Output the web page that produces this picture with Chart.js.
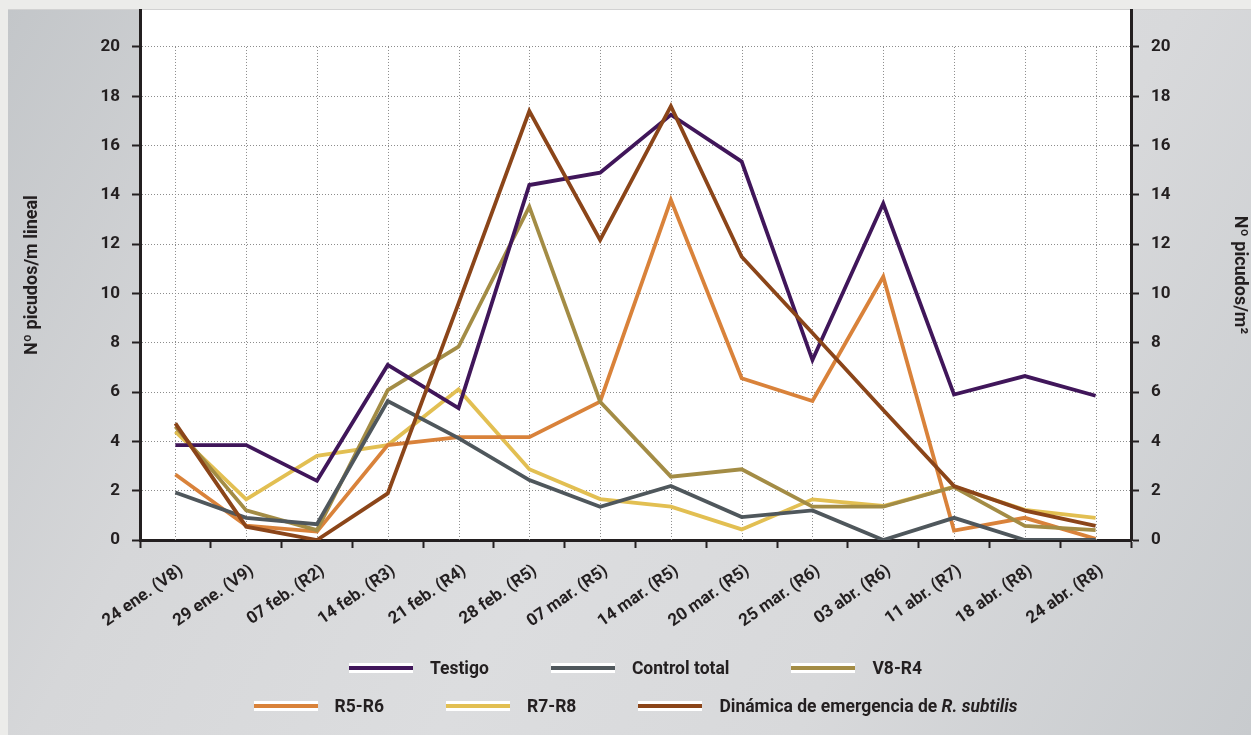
<!DOCTYPE html>
<html>
<head>
<meta charset="utf-8">
<script src="https://cdn.jsdelivr.net/npm/chart.js@4.4.1/dist/chart.umd.min.js"></script>
<style>
  html, body { margin: 0; padding: 0; }
  body { width: 1251px; height: 735px; background: #ececea; position: relative; overflow: hidden; font-family: Roboto, "Liberation Sans", sans-serif; }
  #panel { position: absolute; left: 8px; top: 9px; right: 0; bottom: 0;
    background: linear-gradient(118deg, #c3c6c9 0%, #d6d7d9 25%, #dcdddf 50%, #d8d9db 72%, #c8cbce 100%);
    border-top: 1px solid #d2d2d2; }
  #chart { position: absolute; left: 0; top: 0; }
  .row { position: absolute; left: 140px; width: 991px; height: 24px; display: flex; justify-content: center; align-items: center; gap: 62px; }
  .item { display: flex; align-items: center; }
  .sw { width: 64px; height: 4px; border-top: 3px solid #fff; border-bottom: 3px solid #fff; margin-right: 17px; }
  .txt { font-size: 17.5px; font-weight: bold; color: #231f20; white-space: nowrap; }
</style>
</head>
<body>
<div id="panel"></div>
<canvas id="chart" width="1251" height="735"></canvas>
<div id="legend"></div>

<script>
// fechas de muestreo (estado fenológico)
const labels = ['24 ene. (V8)', '29 ene. (V9)', '07 feb. (R2)', '14 feb. (R3)', '21 feb. (R4)', '28 feb. (R5)', '07 mar. (R5)',
  '14 mar. (R5)', '20 mar. (R5)', '25 mar. (R6)', '03 abr. (R6)', '11 abr. (R7)', '18 abr. (R8)', '24 abr. (R8)'];

const seriesNames = ['Testigo', 'Control total', 'V8-R4', 'R5-R6', 'R7-R8', 'Dinámica de emergencia de R. subtilis'];
const italicName = 'R. subtilis';

const testigo = [3.85, 3.85, 2.4, 7.1, 5.35, 14.4, 14.9, 17.25, 15.35, 7.3, 13.65, 5.9, 6.65, 5.85];
const controlTotal = [1.93, 0.9, 0.64, 5.64, 4.13, 2.43, 1.35, 2.19, 0.93, 1.2, 0, 0.9, 0, 0];
const v8r4 = [4.6, 1.2, 0.4, 6.08, 7.84, 13.52, 5.61, 2.57, 2.87, 1.35, 1.35, 2.15, 0.57, 0.4];
const r5r6 = [2.66, 0.58, 0.34, 3.85, 4.17, 4.17, 5.61, 13.8, 6.56, 5.64, 10.68, 0.38, 0.9, 0.05];
const r7r8 = [4.4, 1.65, 3.41, 3.85, 6.11, 2.87, 1.66, 1.35, 0.43, 1.65, 1.38, 2.16, 1.22, 0.9];
const dinamica = [4.73, 0.54, 0, 1.89, 9.6, 17.4, 12.17, 17.6, 11.49, 8.4, 5.27, 2.19, 1.19, 0.57];

const seriesValues = [testigo, controlTotal, v8r4, r5r6, r7r8, dinamica];
const seriesColors = ['#40165a', '#4f575c', '#a38c45', '#d9823a', '#e2bf52', '#8b4519'];

const yMax = 20;
const yStep = 2;

const dark = '#231f20';
const dotColor = '#8c8c8c';
const fam = 'Roboto, "Liberation Sans", sans-serif';

// white plot area + dotted vertical lines on the categories (only up to 20)
const plotBits = {
  id: 'plotBits',
  beforeDraw(chart) {
    const { ctx, chartArea: a } = chart;
    ctx.save();
    ctx.fillStyle = '#fff';
    ctx.fillRect(a.left, a.top, a.right - a.left, a.bottom - a.top);
    ctx.restore();
  },
  beforeDatasetsDraw(chart) {
    const { ctx } = chart;
    const xs = chart.scales.x, ys = chart.scales.y;
    const top = ys.getPixelForValue(yMax), bot = ys.getPixelForValue(0);
    ctx.save();
    ctx.strokeStyle = dotColor;
    ctx.lineWidth = 1;
    ctx.setLineDash([1, 2]);
    labels.forEach((l, i) => {
      const x = Math.round(xs.getPixelForValue(i)) + 0.5;
      ctx.beginPath();
      ctx.moveTo(x, top);
      ctx.lineTo(x, bot);
      ctx.stroke();
    });
    ctx.restore();
  }
};

// fixed box sizes so the plot sits where the original does
function fixBox(w, h) {
  return s => {
    if (w != null) s.width = w;
    if (h != null) s.height = h;
    s.paddingTop = 0; s.paddingBottom = 0; s.paddingLeft = 0; s.paddingRight = 0;
  };
}

const yTicks = {
  stepSize: yStep, includeBounds: false, color: dark, padding: 12,
  font: { family: fam, size: 17, weight: 'bold' }
};

const chart = new Chart(document.getElementById('chart'), {
  type: 'line',
  data: {
    labels: labels,
    datasets: seriesNames.map((name, i) => ({
      label: name,
      data: seriesValues[i],
      borderColor: seriesColors[i],
      backgroundColor: seriesColors[i],
      borderWidth: 3.8,
      borderJoinStyle: 'miter',
      pointRadius: 0,
      tension: 0,
      fill: false,
      order: i === 5 ? -1 : i
    }))
  },
  options: {
    responsive: false,
    animation: false,
    layout: { padding: { top: 10, left: 0, right: 0, bottom: 0 } },
    plugins: { legend: { display: false }, tooltip: { enabled: false } },
    scales: {
      x: {
        type: 'category',
        offset: true,
        grid: { offset: true, drawOnChartArea: false, drawTicks: true, tickLength: 8, tickColor: dark, tickWidth: 2, color: dark },
        border: { color: dark, width: 3 },
        ticks: {
          autoSkip: false, minRotation: 35, maxRotation: 35, color: dark, padding: 13, labelOffset: 6,
          font: { family: fam, size: 17, weight: 'bold' }
        },
        afterFit: fixBox(null, 195)
      },
      y: {
        position: 'left', min: 0, max: 21.5,
        ticks: yTicks,
        grid: { color: dotColor, lineWidth: 1, tickColor: dark, tickWidth: 2, tickLength: 8 },
        border: { color: dark, width: 3, dash: [1, 2] },
        title: {
          display: true, text: 'Nº picudos/m lineal', color: dark, padding: { top: 22, bottom: 0 },
          font: { family: fam, size: 18, weight: 'bold' }
        },
        afterFit: fixBox(140, null)
      },
      y2: {
        position: 'right', min: 0, max: 21.5,
        ticks: yTicks,
        grid: { drawOnChartArea: false, tickColor: dark, tickWidth: 2, tickLength: 8 },
        border: { color: dark, width: 3 },
        title: {
          display: true, text: 'Nº picudos/m²', color: dark, padding: { top: 1, bottom: 0 },
          font: { family: fam, size: 18, weight: 'bold' }
        },
        afterFit: fixBox(120, null)
      }
    }
  },
  plugins: [plotBits]
});

// legend in two rows, built from the datasets
const legend = document.getElementById('legend');
const rows = [[0, 1, 2], [3, 4, 5]];
const rowTops = [656, 694];
rows.forEach((idx, r) => {
  const row = document.createElement('div');
  row.className = 'row';
  row.style.top = rowTops[r] + 'px';
  idx.forEach(i => {
    const ds = chart.data.datasets[i];
    const item = document.createElement('div');
    item.className = 'item';
    const sw = document.createElement('span');
    sw.className = 'sw';
    sw.style.background = ds.borderColor;
    const txt = document.createElement('span');
    txt.className = 'txt';
    const k = ds.label.indexOf(italicName);
    if (k >= 0) {
      txt.appendChild(document.createTextNode(ds.label.slice(0, k)));
      const it = document.createElement('i');
      it.textContent = italicName;
      txt.appendChild(it);
    } else {
      txt.textContent = ds.label;
    }
    item.appendChild(sw);
    item.appendChild(txt);
    row.appendChild(item);
  });
  legend.appendChild(row);
});
</script>
</body>
</html>
